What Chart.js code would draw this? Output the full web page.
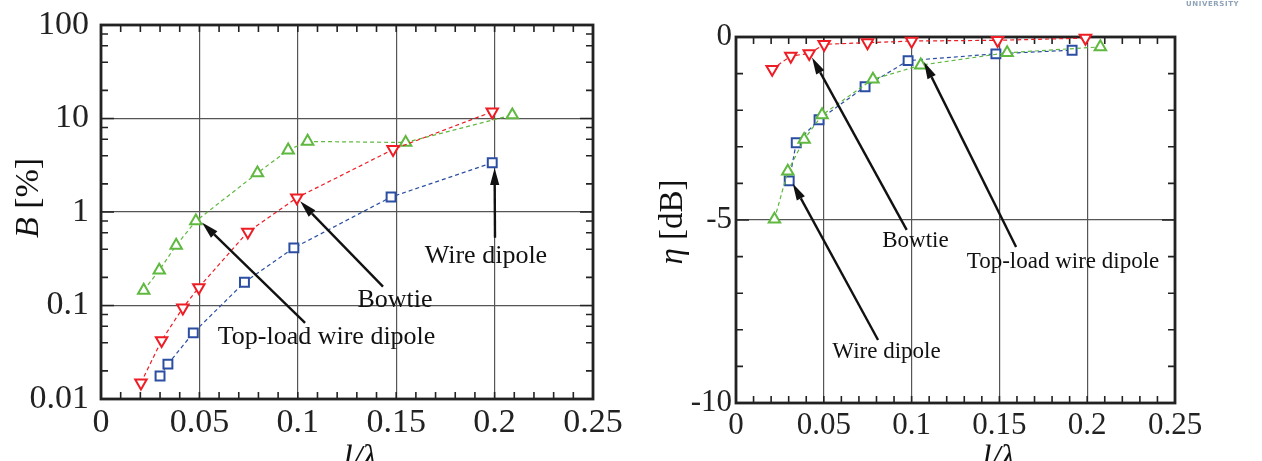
<!DOCTYPE html>
<html>
<head>
<meta charset="utf-8">
<script src="https://cdn.jsdelivr.net/npm/chart.js@4.4.1/dist/chart.umd.min.js"></script>
<style>
  body { margin: 0; background: #fff; }
  .lienzo { position: absolute; top: 0; width: 631px; height: 461px; }
  #izq { left: 0; }
  #der { left: 631px; }
  .marca { position: absolute; left: 1186px; top: 0px; font: bold 7px "DejaVu Sans"; color: #8ea3b8; letter-spacing: 0.6px; }
</style>
</head>
<body>
<div class="lienzo" id="izq"><canvas id="graficaB"></canvas></div>
<div class="lienzo" id="der"><canvas id="graficaEta"></canvas></div>
<div class="marca">UNIVERSITY</div>
<script>
/* DATOS: ancho de banda B [%] */
const lTopB = [0.0217, 0.0296, 0.0382, 0.0482, 0.0795, 0.0951, 0.105, 0.1548, 0.209];
const bTop = [0.145, 0.238, 0.44, 0.80, 2.61, 4.59, 5.68, 5.54, 10.9];
const lBowB = [0.0203, 0.0308, 0.0416, 0.0497, 0.0746, 0.0995, 0.1484, 0.1988];
const bBow = [0.0149, 0.0423, 0.0944, 0.156, 0.612, 1.42, 4.67, 11.8];
const lWireB = [0.0300, 0.034, 0.0469, 0.0729, 0.098, 0.1474, 0.1988];
const bWire = [0.0176, 0.0236, 0.051, 0.177, 0.413, 1.445, 3.36];

/* DATOS: eficiencia eta [dB] */
const lBowE = [0.0206, 0.0312, 0.0417, 0.0502, 0.0749, 0.100, 0.149, 0.199];
const etaBow = [-0.88, -0.52, -0.45, -0.20, -0.155, -0.11, -0.09, -0.03];
const lWireE = [0.0303, 0.0343, 0.0473, 0.0735, 0.098, 0.148, 0.1914];
const etaWire = [-3.93, -2.89, -2.26, -1.36, -0.645, -0.46, -0.36];
const lTopE = [0.0219, 0.0295, 0.0388, 0.0490, 0.078, 0.1052, 0.1544, 0.2075];
const etaTop = [-4.98, -3.67, -2.80, -2.13, -1.155, -0.77, -0.43, -0.27];

/* EJES */
const xTicks = [0, 0.05, 0.1, 0.15, 0.2, 0.25];
const xEtiquetas = ['0', '0.05', '0.1', '0.15', '0.2', '0.25'];
const bTicks = [0.01, 0.1, 1, 10, 100];
const bEtiquetas = ['0.01', '0.1', '1', '10', '100'];
const etaTicks = [-10, -5, 0];
const etaEtiquetas = ['-10', '-5', '0'];

const serif = '"Liberation Serif", "Times New Roman", serif';
const rojo = '#ee1c25';
const verde = '#5fb83f';
const azul = '#2b4ea2';

// ticks menores cada 0.01 en x
let xMenores = [];
for (let i = 1; i < 25; i++) xMenores.push(i / 100);

// ticks menores 2,4,6,8 por decada en el eje log
let bMenores = [];
[0.01, 0.1, 1, 10].forEach(d => [2, 4, 6, 8].forEach(m => bMenores.push(d * m)));

let etaMenores = [];
for (let i = -9; i < 0; i++) etaMenores.push(i);

function puntos(xs, ys) {
  return xs.map((v, i) => ({ x: v, y: ys[i] }));
}

function serie(nombre, xs, ys, color, estilo, giro) {
  return {
    label: nombre,
    data: puntos(xs, ys),
    showLine: true,
    borderColor: color,
    borderWidth: 1.2,
    borderDash: [4, 3],
    pointStyle: estilo,
    pointRotation: giro,
    pointRadius: estilo === 'rect' ? 6.3 : 6.6,
    pointBorderWidth: 2,
    pointBorderColor: color,
    pointBackgroundColor: '#fff',
    clip: false
  };
}

function flecha(ctx, x1, y1, x2, y2) {
  let ang = Math.atan2(y2 - y1, x2 - x1);
  let largo = 17, ancho = 4.6;
  let bx = x2 - Math.cos(ang) * largo, by = y2 - Math.sin(ang) * largo;
  ctx.beginPath();
  ctx.moveTo(x1, y1);
  ctx.lineTo(bx, by);
  ctx.stroke();
  ctx.beginPath();
  ctx.moveTo(x2, y2);
  ctx.lineTo(bx - Math.sin(ang) * ancho, by + Math.cos(ang) * ancho);
  ctx.lineTo(bx + Math.sin(ang) * ancho, by - Math.cos(ang) * ancho);
  ctx.closePath();
  ctx.fill();
}

/* marco, ticks hacia adentro, notas y titulos de eje */
const marcoPlugin = {
  id: 'marco',
  beforeDatasetsDraw(chart, args, op) {
    const { ctx, chartArea: a, scales: { x, y } } = chart;
    ctx.save();
    ctx.strokeStyle = '#222';
    ctx.lineWidth = 1.6;
    ctx.beginPath();
    op.xMenores.forEach(v => {
      let px = x.getPixelForValue(v);
      ctx.moveTo(px, a.bottom); ctx.lineTo(px, a.bottom - 7);
      ctx.moveTo(px, a.top); ctx.lineTo(px, a.top + 7);
    });
    op.yMenores.forEach(v => {
      let py = y.getPixelForValue(v);
      ctx.moveTo(a.left, py); ctx.lineTo(a.left + 7, py);
      ctx.moveTo(a.right, py); ctx.lineTo(a.right - 7, py);
    });
    op.yMayores.forEach(v => {
      let py = y.getPixelForValue(v);
      ctx.moveTo(a.left, py); ctx.lineTo(a.left + 13, py);
      ctx.moveTo(a.right, py); ctx.lineTo(a.right - 13, py);
    });
    ctx.stroke();
    ctx.lineWidth = 2.8;
    ctx.strokeRect(a.left, a.top, a.width, a.height);
    ctx.restore();
  },
  afterDraw(chart, args, op) {
    const { ctx, chartArea: a, scales: { x, y } } = chart;
    ctx.save();
    ctx.fillStyle = '#111';
    ctx.strokeStyle = '#111';
    ctx.lineWidth = 2.4;
    op.notas.forEach(n => {
      flecha(ctx, x.getPixelForValue(n.desde[0]), y.getPixelForValue(n.desde[1]),
                  x.getPixelForValue(n.hasta[0]), y.getPixelForValue(n.hasta[1]));
      ctx.font = op.tamNota + 'px ' + serif;
      ctx.textAlign = 'center';
      ctx.textBaseline = 'alphabetic';
      ctx.fillText(n.texto, x.getPixelForValue(n.pos[0]), y.getPixelForValue(n.pos[1]));
    });

    /* TITULO X */
    ctx.font = 'italic ' + op.tamTitulo + 'px ' + serif;
    ctx.textAlign = 'center';
    ctx.fillText('l/λ', (a.left + a.right) / 2 + op.xTitDx, op.xTitY);

    /* TITULO Y */
    ctx.translate(op.yTitX, op.yTitY);
    ctx.rotate(-Math.PI / 2);
    ctx.textAlign = 'left';
    let fIt = 'italic ' + op.tamTitulo + 'px ' + serif;
    let fRe = op.tamTitulo + 'px ' + serif;
    ctx.font = fIt;
    let w1 = ctx.measureText(op.yTit[0]).width;
    ctx.font = fRe;
    let w2 = ctx.measureText(op.yTit[1]).width;
    let x0 = -(w1 + w2) / 2;
    ctx.font = fIt;
    ctx.fillText(op.yTit[0], x0, 0);
    ctx.font = fRe;
    ctx.fillText(op.yTit[1], x0 + w1, 0);
    ctx.restore();
  }
};

function ejeX(tam, pad, alto) {
  return {
    type: 'linear', min: 0, max: 0.25,
    afterBuildTicks: eje => { eje.ticks = xTicks.map(v => ({ value: v })); },
    afterFit: eje => { eje.height = alto; },
    grid: { color: '#555', lineWidth: 1.2, drawTicks: false },
    border: { display: false },
    ticks: {
      autoSkip: false, maxRotation: 0, padding: pad, color: '#222',
      font: { family: serif, size: tam },
      callback: (v, i) => xEtiquetas[i]
    }
  };
}

function cargarGraficaB() {
  let lienzo = document.getElementById('graficaB');
  new Chart(lienzo.getContext('2d'), {
    type: 'scatter',
    data: {
      datasets: [
        serie('Wire dipole', lWireB, bWire, azul, 'rect', 0),
        serie('Bowtie', lBowB, bBow, rojo, 'triangle', 180),
        serie('Top-load wire dipole', lTopB, bTop, verde, 'triangle', 0)
      ]
    },
    options: {
      responsive: true, maintainAspectRatio: false, animation: false,
      layout: { padding: { left: 0, right: 38, top: 25, bottom: 0 } },
      scales: {
        x: ejeX(34, 4, 62),
        y: {
          type: 'logarithmic', min: 0.01, max: 100,
          afterBuildTicks: eje => { eje.ticks = bTicks.map(v => ({ value: v })); },
          afterFit: eje => { eje.width = 101; },
          grid: { color: '#555', lineWidth: 1.2, drawTicks: false },
          border: { display: false },
          ticks: {
            autoSkip: false, padding: 12, color: '#222',
            font: { family: serif, size: 34, lineHeight: 0.7 },
            callback: (v, i) => bEtiquetas[i]
          }
        }
      },
      plugins: {
        legend: { display: false },
        tooltip: { enabled: false },
        marco: {
          xMenores: xMenores, yMenores: bMenores, yMayores: bTicks,
          tamNota: 26, tamTitulo: 34,
          xTitDx: 13, xTitY: 468,
          yTitX: 38, yTitY: 198, yTit: ['B', ' [%]'],
          notas: [
            { texto: 'Wire dipole', pos: [0.1956, 0.287], desde: [0.2002, 0.53], hasta: [0.2, 2.95] },
            { texto: 'Bowtie', pos: [0.1494, 0.097], desde: [0.1433, 0.159], hasta: [0.1012, 1.3] },
            { texto: 'Top-load wire dipole', pos: [0.1146, 0.039], desde: [0.1037, 0.0653], hasta: [0.0513, 0.77] }
          ]
        }
      }
    },
    plugins: [marcoPlugin]
  });
}

function cargarGraficaEta() {
  let lienzo = document.getElementById('graficaEta');
  new Chart(lienzo.getContext('2d'), {
    type: 'scatter',
    data: {
      datasets: [
        serie('Top-load wire dipole', lTopE, etaTop, verde, 'triangle', 0),
        serie('Wire dipole', lWireE, etaWire, azul, 'rect', 0),
        serie('Bowtie', lBowE, etaBow, rojo, 'triangle', 180)
      ]
    },
    options: {
      responsive: true, maintainAspectRatio: false, animation: false,
      layout: { padding: { left: 0, right: 87, top: 37, bottom: 0 } },
      scales: {
        x: ejeX(31, 4, 58),
        y: {
          type: 'linear', min: -10, max: 0,
          afterBuildTicks: eje => { eje.ticks = etaTicks.map(v => ({ value: v })); },
          afterFit: eje => { eje.width = 105; },
          grid: { color: '#555', lineWidth: 1.2, drawTicks: false },
          border: { display: false },
          ticks: {
            autoSkip: false, padding: 4, color: '#222',
            font: { family: serif, size: 31 },
            callback: (v, i) => etaEtiquetas[i]
          }
        }
      },
      plugins: {
        legend: { display: false },
        tooltip: { enabled: false },
        marco: {
          xMenores: xMenores, yMenores: etaMenores, yMayores: etaTicks,
          tamNota: 23, tamTitulo: 33,
          xTitDx: 43, xTitY: 468,
          yTitX: 51, yTitY: 222, yTit: ['η', ' [dB]'],
          notas: [
            { texto: 'Bowtie', pos: [0.1022, -5.74], desde: [0.0972, -5.27], hasta: [0.0433, -0.56] },
            { texto: 'Top-load wire dipole', pos: [0.1862, -6.31], desde: [0.1595, -5.74], hasta: [0.1071, -0.68] },
            { texto: 'Wire dipole', pos: [0.0857, -8.77], desde: [0.0809, -8.28], hasta: [0.0323, -4.0] }
          ]
        }
      }
    },
    plugins: [marcoPlugin]
  });
}

cargarGraficaB();
cargarGraficaEta();
</script>
</body>
</html>
